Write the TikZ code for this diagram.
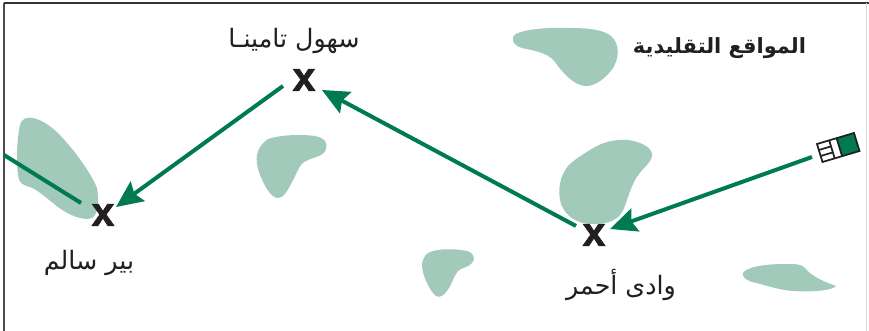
\documentclass[tikz,border=0pt]{standalone}
\usepackage{fontspec}
\usetikzlibrary{arrows.meta}
\TeXXeTstate=1
\newfontfamily\arabicfont[Script=Arabic]{DejaVu Sans}
\newfontfamily\arabicbold[Script=Arabic]{DejaVu Sans Bold}
\newfontfamily\xfont[FakeBold=1.6]{Liberation Sans Bold}
\definecolor{blobc}{HTML}{A1CABB}
\definecolor{routec}{HTML}{007A50}
\definecolor{inkc}{HTML}{231F20}
\tikzset{
  blob/.style={fill=blobc,draw=none},
  route/.style={draw=routec,line width=3pt},
  routearrow/.style={route,-{Stealth[length=20pt,width=18pt,inset=3pt]}},
  xmark/.style={inner sep=0pt,text=inkc,font=\xfont\fontsize{31}{31}\selectfont},
  place/.style={inner sep=0pt,text=inkc,font=\arabicfont\fontsize{19}{22}\selectfont},
  devline/.style={draw=inkc,line width=1.3pt,line join=miter},
}
\begin{document}
\begin{tikzpicture}[x=0.75pt,y=-0.75pt]
\useasboundingbox (0,0) rectangle (869,331);
\fill[white] (0,0) rectangle (869,331);
% frame
\draw[line width=1pt,color=black!70] (4,331) -- (4,3);
\draw[line width=1pt,color=black!80] (4,3) -- (869,3);
\draw[line width=0.7pt,color=black!15] (866,3) -- (866,331);
% blobs
\fill[blob] (513,37) .. controls (515,30) and (545,27) .. (570,28) .. controls (590,28) and (605,30) .. (612,37) .. controls (620,45) and (619,58) .. (613,68) .. controls (606,78) and (596,86) .. (586,86) .. controls (574,86) and (562,72) .. (555,62) .. controls (548,52) and (530,50) .. (522,48) .. controls (515,46) and (512,42) .. (513,37) -- cycle;
\fill[blob] (20,125) .. controls (22,118) and (27,117) .. (33,118) .. controls (50,122) and (62,137) .. (73,150) .. controls (84,164) and (93,178) .. (97,188) .. controls (99,197) and (99,214) .. (92,218) .. controls (84,221) and (70,216) .. (58,207) .. controls (45,197) and (38,190) .. (30,187) .. controls (22,185) and (19,183) .. (18,175) .. controls (16,160) and (17,140) .. (20,125) -- cycle;
\fill[blob] (268,139) .. controls (280,135) and (300,134) .. (315,136) .. controls (325,138) and (328,143) .. (326,149) .. controls (324,156) and (315,157) .. (308,160) .. controls (298,164) and (298,172) .. (292,182) .. controls (287,192) and (283,198) .. (278,198) .. controls (270,198) and (263,183) .. (259,172) .. controls (255,160) and (255,148) .. (268,139) -- cycle;
\fill[blob] (590,150) .. controls (602,142) and (615,139) .. (628,140) .. controls (642,142) and (653,148) .. (652,156) .. controls (651,164) and (641,168) .. (634,182) .. controls (627,196) and (626,208) .. (620,215) .. controls (614,222) and (605,224) .. (592,224) .. controls (578,224) and (566,217) .. (561,204) .. controls (557,190) and (560,176) .. (568,166) .. controls (574,160) and (582,155) .. (590,150) -- cycle;
\fill[blob] (430,252) .. controls (440,248) and (458,249) .. (467,251) .. controls (474,253) and (476,259) .. (472,263) .. controls (468,268) and (462,267) .. (458,271) .. controls (453,277) and (452,285) .. (447,291) .. controls (443,296) and (440,298) .. (436,296) .. controls (430,291) and (425,280) .. (423,272) .. controls (421,264) and (422,256) .. (430,252) -- cycle;
\fill[blob] (743,273) .. controls (746,267) and (765,264) .. (785,264) .. controls (795,264) and (802,264) .. (805,268) .. controls (812,277) and (825,282) .. (836,286) .. controls (832,291) and (810,292) .. (793,291) .. controls (778,290) and (762,284) .. (752,282) .. controls (746,280) and (742,277) .. (743,273) -- cycle;
% marks
\node[xmark] (xt) at (304,80) {x};
\node[xmark] (xb) at (103,215) {x};
\node[xmark] (xw) at (594,235) {x};
% labels
\node[place] (lt) at (294,41) {\beginR سهول تامينـا\endR};
\node[place] (lb) at (89,263) {\beginR بير سالم\endR};
\node[place] (lw) at (621,285) {\beginR وادى أحمر\endR};
\node[inner sep=0pt,text=inkc,font=\arabicbold\fontsize{15.7}{20}\selectfont] (ll) at (719.5,48) {\beginR المواقع التقليدية\endR};
% device
\fill[white] (817,144) -- (854,133) -- (859.5,151) -- (822.5,162) -- cycle;
\fill[routec] (836.6,138.2) -- (854,133) -- (859.5,151) -- (842.1,156.2) -- cycle;
\draw[devline] (817,144) -- (854,133) -- (859.5,151) -- (822.5,162) -- cycle;
\draw[devline] (829.2,140.4) -- (834.7,158.4);
\draw[devline] (836.6,138.2) -- (842.1,156.2);
\draw[devline] (818.8,150) -- (831,146.4) (820.7,156) -- (832.9,152.4);
% connector ends
\coordinate (a0) at (812,157);
\coordinate (a1) at (610,229);
\coordinate (b0) at (576,226);
\coordinate (b1) at (322,90);
\coordinate (c0) at (283,86);
\coordinate (c1) at (116,207);
\coordinate (d0) at (4,155);
\coordinate (d1) at (81,203);
\draw[routearrow] (a0) -- (a1);
\draw[routearrow] (b0) -- (b1);
\draw[routearrow] (c0) -- (c1);
\draw[route] (d0) -- (d1);
\end{tikzpicture}
\end{document}
